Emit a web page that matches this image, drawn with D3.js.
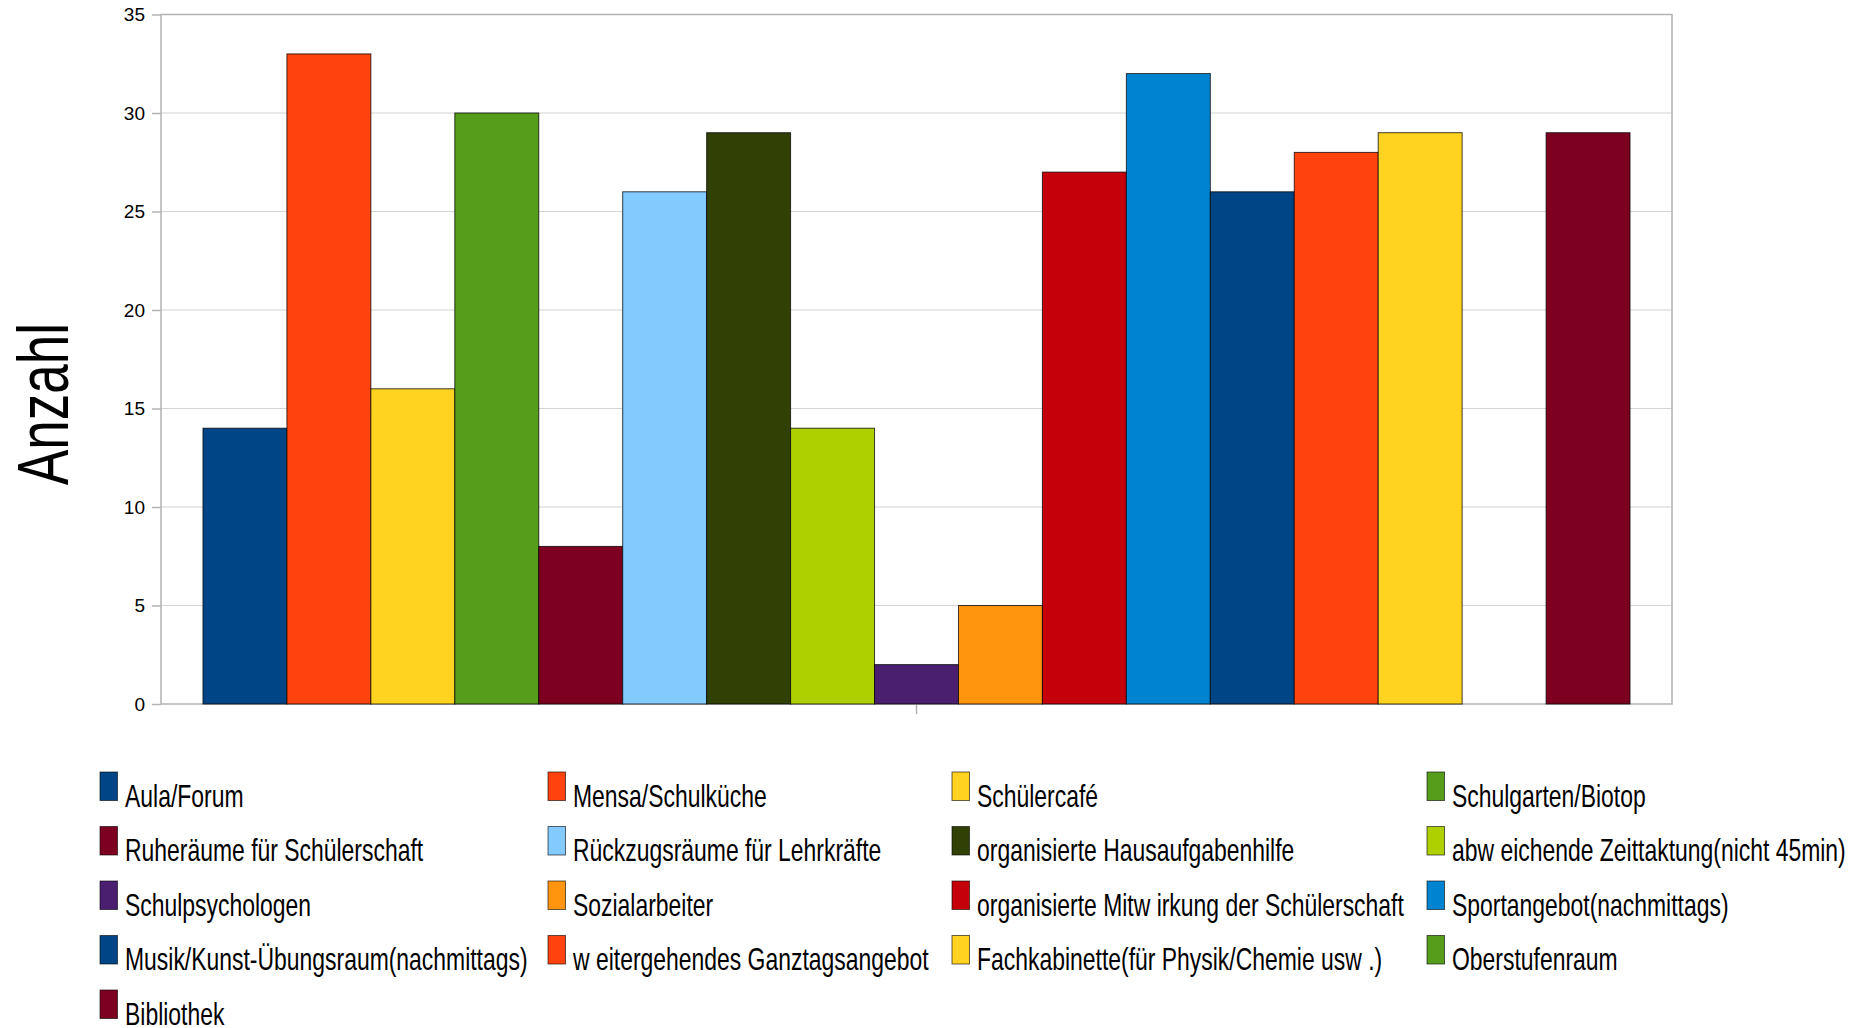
<!DOCTYPE html>
<html lang="de">
<head>
    <meta charset="UTF-8">
    <title>Anzahl</title>
    <script src="https://d3js.org/d3.v7.min.js"></script>
    <style>
        body { margin: 0; background: #fff; }
        svg { display: block; font-family: "Liberation Sans", Arial, sans-serif; }
        .grid line { stroke: #d4d4d4; stroke-width: 1.2px; }
        .frame { stroke: #b3b3b3; stroke-width: 1.5px; fill: none; }
        .bars rect { stroke: #000; stroke-opacity: 0.75; stroke-width: 1px; }
        .legend rect { stroke: #000; stroke-opacity: 0.6; stroke-width: 1px; }
    </style>
</head>
<body>
    <svg width="1868" height="1028"></svg>
    <script>
        // Kategorien (Reihenfolge wie im Diagramm)
        const categories = [
            "Aula/Forum", "Mensa/Schulküche", "Schülercafé", "Schulgarten/Biotop",
            "Ruheräume für Schülerschaft", "Rückzugsräume für Lehrkräfte", "organisierte Hausaufgabenhilfe", "abw eichende Zeittaktung(nicht 45min)",
            "Schulpsychologen", "Sozialarbeiter", "organisierte Mitw irkung der Schülerschaft", "Sportangebot(nachmittags)",
            "Musik/Kunst-Übungsraum(nachmittags)", "w eitergehendes Ganztagsangebot", "Fachkabinette(für Physik/Chemie usw .)", "Oberstufenraum",
            "Bibliothek"
        ];
        const values = [14, 33, 16, 30, 8, 26, 29, 14, 2, 5, 27, 32, 26, 28, 29, 0, 29];
        const colors = [
            "#004586", "#ff420e", "#ffd320", "#579d1c",
            "#7e0021", "#83caff", "#314004", "#aecf00",
            "#4b1f6f", "#ff950e", "#c5000b", "#0084d1",
            "#004586", "#ff420e", "#ffd320", "#579d1c",
            "#7e0021"
        ];
        const yTicks = [0, 5, 10, 15, 20, 25, 30, 35];

        const svg = d3.select("svg");
        const plot = { left: 161, right: 1672, top: 14.5, bottom: 704 };

        const x = d3.scaleBand()
            .domain(categories)
            .range([plot.left, plot.right])
            .paddingInner(0)
            .paddingOuter(0.5);

        const y = d3.scaleLinear()
            .domain([0, 35])
            .range([plot.bottom, plot.top]);

        // Gitterlinien
        svg.append("g")
            .attr("class", "grid")
            .selectAll("line")
            .data(yTicks.filter(t => t > 0 && t < 35))
            .enter().append("line")
            .attr("x1", plot.left)
            .attr("x2", plot.right)
            .attr("y1", d => y(d))
            .attr("y2", d => y(d));

        // y-Achse
        const yAxis = svg.append("g")
            .attr("transform", `translate(${plot.left},0)`)
            .call(d3.axisLeft(y).tickValues(yTicks).tickSize(9).tickPadding(7));
        yAxis.select(".domain").remove();
        yAxis.selectAll(".tick line").attr("stroke", "#b3b3b3").attr("stroke-width", 1.5);
        yAxis.selectAll(".tick text")
            .attr("font-size", 19)
            .attr("font-family", "Liberation Sans, Arial, sans-serif")
            .attr("fill", "#000");

        // Rahmen
        svg.append("path")
            .attr("class", "frame")
            .attr("d", `M${plot.left},${plot.top}H${plot.right}V${plot.bottom}H${plot.left}Z`);

        // Mittelstrich an der x-Achse
        const midX = (plot.left + plot.right) / 2;
        svg.append("line")
            .attr("class", "frame")
            .attr("x1", midX).attr("x2", midX)
            .attr("y1", plot.bottom).attr("y2", plot.bottom + 10);

        // Balken
        svg.append("g")
            .attr("class", "bars")
            .selectAll("rect")
            .data(categories.map((c, i) => ({ name: c, value: values[i], color: colors[i] })))
            .enter().append("rect")
            .filter(d => d.value > 0)
            .attr("x", d => x(d.name))
            .attr("y", d => y(d.value))
            .attr("width", x.bandwidth())
            .attr("height", d => y(0) - y(d.value))
            .attr("fill", d => d.color);

        // Achsentitel
        svg.append("text")
            .attr("transform", "translate(68,404) rotate(-90)")
            .attr("text-anchor", "middle")
            .attr("font-size", 73)
            .attr("textLength", 162)
            .attr("lengthAdjust", "spacingAndGlyphs")
            .text("Anzahl");

        // Legende
        const legendCols = [100, 548, 952, 1427];
        const legendRow0 = 806.5, legendRowStep = 54.5;
        const legend = svg.append("g")
            .attr("class", "legend")
            .selectAll("g")
            .data(categories)
            .enter().append("g")
            .attr("transform", (d, i) =>
                `translate(${legendCols[i % 4]},${legendRow0 + Math.floor(i / 4) * legendRowStep})`);

        legend.append("rect")
            .attr("x", 0)
            .attr("y", -34.5)
            .attr("width", 17.5)
            .attr("height", 28.5)
            .attr("fill", (d, i) => colors[i]);

        legend.append("text")
            .attr("transform", "translate(25,0) scale(0.74,1)")
            .attr("font-size", 31)
            .attr("fill", "#000")
            .text(d => d);
    </script>
</body>
</html>
